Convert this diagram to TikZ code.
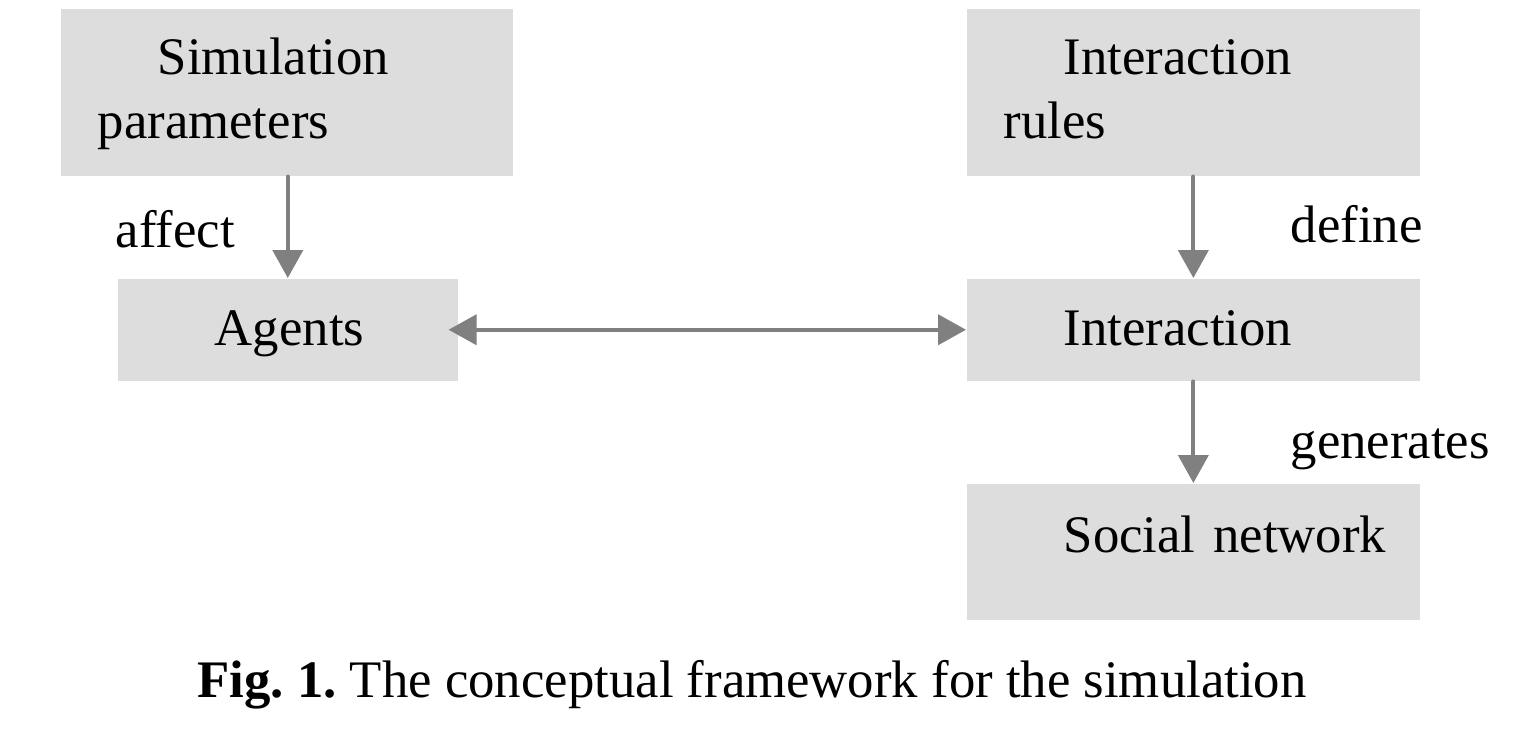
\documentclass[tikz,border=0pt]{standalone}
\usepackage{fontspec}
\setmainfont{Liberation Serif}
\usepackage{tikz}
\usetikzlibrary{arrows.meta}

\definecolor{boxgray}{RGB}{221,221,221}
\definecolor{arrowgray}{RGB}{128,128,128}
\frenchspacing

\begin{document}
\begin{tikzpicture}[
						x=0.01cm, y=-0.01cm,
						every node/.style={font=\fontsize{15pt}{18pt}\selectfont},
						box/.style={fill=boxgray, anchor=north west, align=left, inner xsep=0.37cm, inner ysep=0pt},
						word/.style={anchor=base west, inner sep=0pt},
						link/.style={draw=arrowgray, line width=0.04cm, -{Triangle[length=0.28cm, width=0.3cm]}},
						line cap=round,
						line join=round
						]
						
						\useasboundingbox (0,0) rectangle (1522,732);
						
						% Boxes
						\node[box, text width=3.78cm, text height=0.66cm, text depth=1.01cm] (sim) at (60,8) {\hspace*{0.6cm}Simulation\\parameters};
						\node[box, text width=3.79cm, text height=0.66cm, text depth=1.01cm] (rules) at (966,8) {\hspace*{0.6cm}Interaction\\rules};
						\node[box, text width=2.66cm, text height=0.67cm, text depth=0.35cm] (agents) at (117,278) {\hspace*{0.6cm}Agents};
						\node[box, text width=3.79cm, text height=0.67cm, text depth=0.35cm] (inter) at (966,278) {\hspace*{0.6cm}Interaction};
						\node[box, text width=3.79cm, text height=0.69cm, text depth=0.67cm] (social) at (966,483) {\hspace*{0.6cm}\mbox{Social network}};
						
						% Arrow labels
						\node[word] (affect) at (115,247) {affect};
						\node[word] (define) at (1290,242) {define};
						\node[word] (generates) at (1290,458) {generates};
						
						% Arrows
						\draw[link] (agents.north |- sim.south) -- (agents.north);
						\draw[link] (rules.south) -- (inter.north);
						\draw[link] (inter.south) -- (social.north);
						\draw[link, {Triangle[length=0.28cm, width=0.3cm]}-{Triangle[length=0.28cm, width=0.3cm]}, shorten <=-0.1cm] (agents.east) -- (inter.west);
						
						% Caption
						\node[anchor=base, inner sep=0pt] (caption) at (752,697) {\textbf{Fig. 1.} The conceptual framework for the simulation};
						
					\end{tikzpicture}
\end{document}
